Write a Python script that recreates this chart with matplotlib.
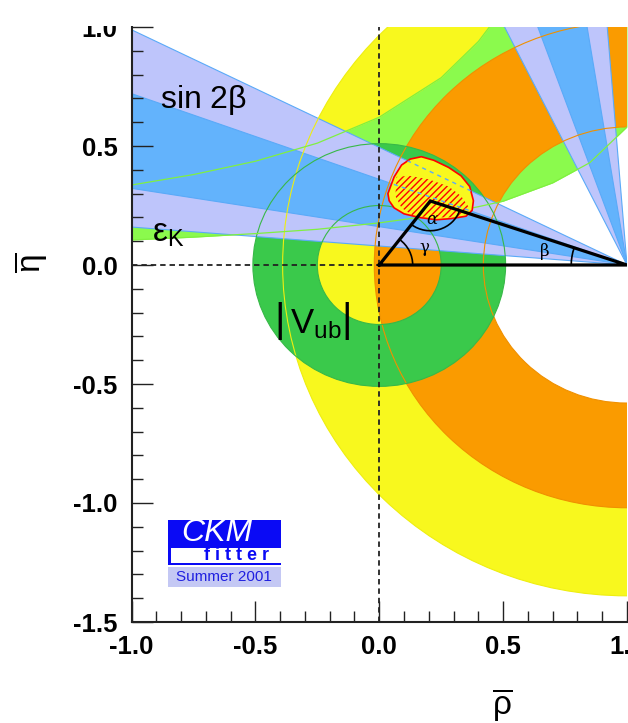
import numpy as np
import matplotlib
matplotlib.use('Agg')
import matplotlib.pyplot as plt
from matplotlib.patches import Wedge, Polygon, Rectangle, Circle, Arc
from matplotlib.ticker import MultipleLocator, FormatStrFormatter

plt.rcParams['font.family'] = ['Liberation Sans', 'DejaVu Sans']
plt.rcParams['mathtext.fontset'] = 'custom'
plt.rcParams['mathtext.rm'] = 'Liberation Sans'
plt.rcParams['mathtext.it'] = 'Liberation Sans:italic'
plt.rcParams['axes.unicode_minus'] = False
plt.rcParams['hatch.linewidth'] = 1.0

# ring constraints: centre rho, centre eta, inner radius, outer radius
vub_ring = (0.0, 0.0, 0.25, 0.51)     # |Vub|, dark green
dmd_ring = (1.0, 0.0, 0.58, 1.02)     # orange
dms_ring = (1.0, 0.0, 0.80, 1.39)     # yellow (inner edge hidden under orange)

# eps_K band, edges
epsk_rho = [-1.0, -0.75, -0.5, -0.25, 0.0, 0.25, 0.4, 0.5, 0.7, 0.85, 1.0]
epsk_lo = [0.105, 0.117, 0.132, 0.150, 0.177, 0.213, 0.245, 0.268, 0.345, 0.43, 0.58]
epsk_hi = [0.336, 0.380, 0.436, 0.512, 0.621, 0.787, 0.939, 1.076, 1.5, 2.2, 3.0]

# sin 2beta: angle (deg) seen from (1,0); 1 and 2 sigma
s2b_1sig = [9.15, 19.8]
s2b_2sig = [4.56, 26.3]

# global fit region
fit_rho = [0.035, 0.06, 0.09, 0.125, 0.17, 0.22, 0.28, 0.33, 0.365, 0.38,
           0.375, 0.35, 0.29, 0.23, 0.16, 0.10, 0.06, 0.04]
fit_eta = [0.30, 0.37, 0.42, 0.445, 0.455, 0.44, 0.41, 0.375, 0.33, 0.27,
           0.23, 0.205, 0.195, 0.19, 0.20, 0.215, 0.24, 0.27]
fit1_rho = [0.065, 0.07, 0.12, 0.20, 0.28, 0.33, 0.36, 0.35, 0.31, 0.22, 0.14, 0.09]
fit1_eta = [0.29, 0.37, 0.375, 0.36, 0.33, 0.29, 0.245, 0.215, 0.20, 0.20, 0.205, 0.24]

apex_rho, apex_eta = 0.206, 0.269

yellow = '#f8f81e'
orange = '#fa9b00'
green = '#3ac94b'
lgreen = '#8bfa4d'
blue = '#63b3fc'
lavender = '#bec5fb'
edgeblue = '#5aaaf8'

W, H = 628, 723
fig = plt.figure(figsize=(W / 100, H / 100), dpi=100)
ax = fig.add_axes([131.5 / W, 1 - 622 / H, 495.5 / W, 595 / H])
ax.set_xlim(-1, 1)
ax.set_ylim(-1.5, 1.0)

# filled rings and bands
for ring, col, z in [(dms_ring, yellow, 1.0), (dmd_ring, orange, 1.2), (vub_ring, green, 1.3)]:
    cr, ce, rin, rout = ring
    ax.add_patch(Wedge((cr, ce), rout, 0, 360, width=rout - rin, fc=col, ec='none', zorder=z))
ax.fill_between(epsk_rho, epsk_lo, epsk_hi, color=lgreen, lw=0, zorder=1.1)

for band, col, z in [(s2b_2sig, lavender, 1.4), (s2b_1sig, blue, 1.5)]:
    lo, hi = band
    ax.add_patch(Wedge((1, 0), 3, 180 - hi, 180 - lo, fc=col, ec=edgeblue, lw=0.8, zorder=z))
    ax.add_patch(Wedge((1, 0), 3, 90 + lo, 90 + hi, fc=col, ec=edgeblue, lw=0.8, zorder=z))

# thin outlines of the constraints, drawn over everything
outlines = [(dms_ring[:2], dms_ring[3], '#eeee10'),
            (dmd_ring[:2], dmd_ring[2], '#f09000'), (dmd_ring[:2], dmd_ring[3], '#f09000'),
            (vub_ring[:2], vub_ring[2], '#38b848'), (vub_ring[:2], vub_ring[3], '#38b848')]
for c, r, col in outlines:
    ax.add_patch(Circle(c, r, fill=False, ec=col, lw=0.8, zorder=1.6))
ax.plot(epsk_rho, epsk_lo, color='#80f040', lw=0.9, zorder=1.6)
ax.plot(epsk_rho, epsk_hi, color='#80f040', lw=0.9, zorder=1.6)

ax.axvline(0, color='#222222', lw=1.3, dashes=(3, 2.2), zorder=1.7)
ax.axhline(0, xmin=0, xmax=0.5, color='#222222', lw=1.3, dashes=(3, 2.2), zorder=1.7)

# fit region
blob = Polygon(np.column_stack([fit_rho, fit_eta]), closed=True, fc=yellow, ec='red',
               lw=1.2, zorder=2.0, joinstyle='round')
ax.add_patch(blob)
ax.add_patch(Polygon(np.column_stack([fit1_rho, fit1_eta]), closed=True, fc='none',
                     ec='red', lw=0, hatch='/////', zorder=2.1))
rr = np.array([-0.1, 0.6])
for ang in (s2b_2sig[1], s2b_1sig[1]):
    ln, = ax.plot(rr, np.tan(np.radians(ang)) * (1 - rr), color=edgeblue, lw=1.0,
                  dashes=(3, 3), zorder=2.2)
    ln.set_clip_path(blob)

# unitarity triangle
ax.plot([0, apex_rho, 1, 0], [0, apex_eta, 0, 0], color='black', lw=2.3, zorder=3,
        solid_joinstyle='miter')
gam = np.degrees(np.arctan2(apex_eta, apex_rho))
bet = np.degrees(np.arctan2(apex_eta, 1 - apex_rho))
ax.add_patch(Arc((0, 0), 0.27, 0.27, theta1=0, theta2=gam, color='black', lw=1.2, zorder=3))
ax.add_patch(Arc((apex_rho, apex_eta), 0.25, 0.25, theta1=180 + gam, theta2=360 - bet,
                 color='black', lw=1.2, zorder=3))
ax.add_patch(Arc((1, 0), 0.45, 0.45, theta1=180 - bet, theta2=180, color='black', lw=1.2, zorder=3))
ax.text(0.212, 0.19, '\u03b1', family='DejaVu Serif', style='italic', fontsize=12,
        ha='center', va='center', zorder=4)
ax.text(0.18, 0.072, '\u03b3', family='DejaVu Serif', fontsize=12, ha='center', va='center', zorder=4)
ax.text(0.67, 0.055, '\u03b2', family='DejaVu Serif', fontsize=12, ha='center', va='center', zorder=4)

# constraint labels
ax.text(-0.883, 0.693, r'$\mathrm{sin\ 2\beta}$', fontsize=23, ha='left', va='center', zorder=4)
ax.text(-0.917, 0.134, r'$\mathrm{\varepsilon_K}$', fontsize=24, ha='left', va='center', zorder=4)
ax.text(-0.403, -0.237, '|', fontsize=29, ha='center', va='center', zorder=4)
ax.text(-0.131, -0.237, '|', fontsize=29, ha='center', va='center', zorder=4)
ax.text(-0.362, -0.286, r'$\mathrm{V_{ub}}$', fontsize=25, ha='left', va='baseline', zorder=4)

# axes styling
for s in ('top', 'right'):
    ax.spines[s].set_visible(False)
for s in ('left', 'bottom'):
    ax.spines[s].set_linewidth(1.5)
    ax.spines[s].set_color('#222222')
ax.xaxis.set_major_locator(MultipleLocator(0.5))
ax.xaxis.set_minor_locator(MultipleLocator(0.1))
ax.yaxis.set_major_locator(MultipleLocator(0.5))
ax.yaxis.set_minor_locator(MultipleLocator(0.1))
ax.xaxis.set_major_formatter(FormatStrFormatter('%.1f'))
ax.yaxis.set_major_formatter(FormatStrFormatter('%.1f'))
ax.tick_params(which='both', direction='in', color='#222222', width=1.0)
ax.tick_params(which='major', length=15, labelsize=18.5)
ax.tick_params(axis='x', which='major', pad=9)
ax.tick_params(axis='y', which='major', pad=10)
ax.tick_params(which='minor', length=8)
for lab in ax.get_xticklabels() + ax.get_yticklabels():
    lab.set_fontweight('bold')

ax.text(0.748, -0.138, r'$\overline{\mathrm{\rho}}$', transform=ax.transAxes,
        fontsize=24, ha='center', va='center')
ax.text(-0.203, 0.603, r'$\overline{\mathrm{\eta}}$', transform=ax.transAxes,
        fontsize=24, ha='center', va='center', rotation=90)


# CKMfitter logo, in figure pixels
def frect(x0, y0, x1, y1, col):
    fig.add_artist(Rectangle((x0 / W, 1 - y1 / H), (x1 - x0) / W, (y1 - y0) / H,
                             transform=fig.transFigure, fc=col, ec='none', zorder=5))


frect(168.3, 520, 280.7, 565, '#0a0af5')
frect(170.5, 547.7, 280.7, 563.3, 'white')
frect(168.3, 567.3, 280.7, 586.7, '#c4c8f4')
fig.text(216.7 / W, 1 - 533 / H, 'CKM', color='white', style='italic', fontsize=23,
         ha='center', va='center', zorder=6)
fig.text(236 / W, 1 - 556 / H, 'f i t t e r', color='#0a0af5', fontweight='bold',
         fontsize=13, ha='center', va='center', zorder=6)
fig.text(223.5 / W, 1 - 577 / H, 'Summer 2001', color='#2020e0', fontsize=11,
         ha='center', va='center', zorder=6)

# page is blank above the frame
fig.add_artist(Rectangle((0, 1 - 26 / H), 1, 26 / H, transform=fig.transFigure,
                         fc='white', ec='none', zorder=10))

fig.savefig('out.png', dpi=100)
